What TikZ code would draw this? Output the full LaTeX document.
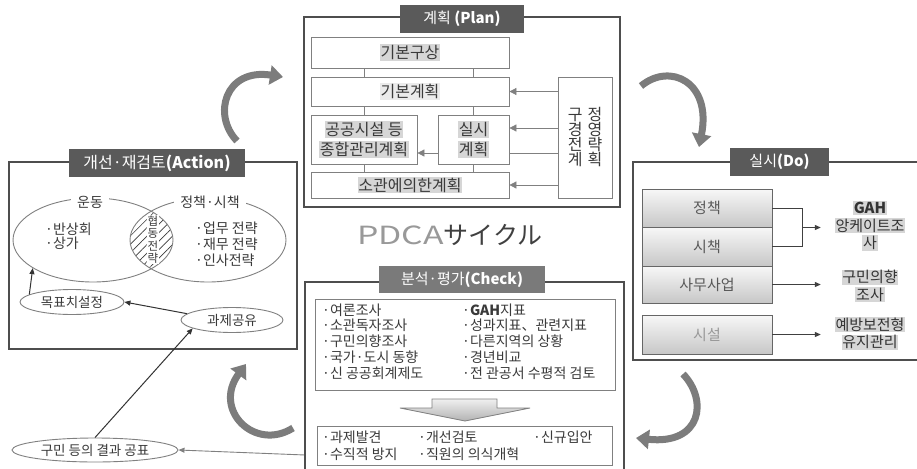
\documentclass[tikz,border=0pt]{standalone}
\usepackage{fontspec}
\setmainfont{Noto Sans CJK KR}
\newfontfamily\jpfont{Noto Sans CJK JP}
\usetikzlibrary{arrows.meta,shapes.geometric,patterns.meta,calc}
\definecolor{boxline}{HTML}{4E4E4E}
\definecolor{inline}{HTML}{808080}
\definecolor{tabA}{HTML}{5A5A5A}
\definecolor{tabC}{HTML}{7A7A7A}
\definecolor{txt}{HTML}{3A3A3A}
\definecolor{hlgray}{HTML}{D6D6D6}
\definecolor{bigarrow}{HTML}{7C7C7C}
\newcommand\hlt[1]{{\setlength{\fboxsep}{0.8pt}\colorbox{hlgray}{#1}}}
\newcommand\fs[2]{\fontsize{#1}{#2}\selectfont}
\begin{document}
\begin{tikzpicture}[x=1pt,y=-1pt,
  outer/.style={draw=boxline,line width=1.5pt},
  tab/.style={fill=tabA,text=white,minimum height=28pt,inner sep=0pt,font=\fs{15}{18}},
  pbox/.style={draw=inline,line width=0.8pt,fill=white,inner sep=0pt,text=txt,font=\fs{16}{20},align=center},
  plink/.style={draw=inline,line width=0.8pt},
  parr/.style={draw=inline,line width=0.8pt,-{Triangle[length=7pt,width=7pt]}},
  oval/.style={ellipse,draw=inline,line width=0.9pt,fill=white,inner sep=0pt,font=\fs{13.5}{15},text=txt},
  darr/.style={draw=black!80,line width=1pt,-{Triangle[length=6pt,width=5pt]}},
  garr/.style={draw=inline,line width=0.9pt,-{Triangle[length=6pt,width=5pt]}},
  dbox/.style={draw=black!60,line width=0.8pt,top color=black!3,bottom color=black!22,minimum width=130pt,inner sep=0pt,font=\fs{15}{16},text=black!65},
  rtxt/.style={font=\fs{15}{17.5},align=center,text width=80pt,inner sep=0pt,text=black!80},
  dlink/.style={draw=black!75,line width=1pt},
  dkarr/.style={draw=black!75,line width=1pt,-{Triangle[length=6pt,width=5pt]},shorten >=9pt},
  ltxt/.style={anchor=west,align=left,inner sep=0pt,font=\fs{14}{15.8},text=txt},
  bigarr/.style={draw=bigarrow,line width=7pt,-{Triangle[length=13pt,width=19pt]}}
]
\useasboundingbox (0,0) rectangle (917,468);
\fill[white] (0,0) rectangle (917,468);

% ---------- Plan ----------
\draw[outer] (304,17) rectangle (620,207);
\node[tab,minimum width=124pt] (plantab) at (462,19) {계획 \textbf{(Plan)}};
\node[pbox,minimum width=198pt,minimum height=31pt] (kb) at (410,52.5) {\hlt{기본구상}};
\node[pbox,minimum width=198pt,minimum height=29pt] (kp) at (410,91.5) {{\setlength{\fboxsep}{0.8pt}\colorbox{black!8}{기본계획}}};
\node[pbox,minimum width=106pt,minimum height=49pt] (gg) at (364,139.5) {\hlt{공공시설 등}\\\hlt{종합관리계획}};
\node[pbox,minimum width=71pt,minimum height=49pt] (ss) at (473.5,139.5) {\hlt{실시}\\\hlt{계획}};
\node[pbox,minimum width=198pt,minimum height=26pt] (sg) at (410,185) {\hlt{소관에의한계획}};
\node[pbox,minimum width=54pt,minimum height=121pt,font=\fs{16}{15}] (ky) at (585,137.5) {구\hspace{5pt}정\\경\hspace{5pt}영\\전\hspace{5pt}략\\계\hspace{5pt}획};
\draw[plink] (kb.south -| gg) -- (kp.north -| gg);
\draw[plink] (kb.south -| ss) -- (kp.north -| ss);
\draw[plink] (kp.south -| gg) -- (gg.north);
\draw[plink] (kp.south -| ss) -- (ss.north);
\draw[plink] (gg.south) -- (sg.north -| gg);
\draw[plink] (ss.south) -- (sg.north -| ss);
\draw[parr] (ky.west |- kp.east) -- (kp.east);
\draw[parr] (ky.west |- 0,128) -- (ss.east |- 0,128);
\draw[plink] (ky.west |- 0,153) -- (ss.east |- 0,153);
\draw[parr] (ss.west |- 0,153) -- (gg.east |- 0,153);
\draw[parr] (ky.west |- sg.east) -- (sg.east);

% ---------- Action ----------
\draw[outer] (9,162) rectangle (297,349);
\node[tab,minimum width=176pt,font=\fs{16}{18}] (acttab) at (157,163) {개선·재검토\textbf{(Action)}};
\begin{scope}
  \clip (93,240) ellipse [x radius=80,y radius=42];
  \fill[pattern={Lines[angle=45,distance=6pt,line width=0.6pt]},pattern color=txt] (208,240) ellipse [x radius=78,y radius=42];
\end{scope}
\node[ellipse,draw=inline,line width=0.9pt,minimum width=160pt,minimum height=84pt,inner sep=0pt] (undong) at (93,240) {};
\node[ellipse,draw=inline,line width=0.9pt,minimum width=156pt,minimum height=84pt,inner sep=0pt] (policy) at (208,240) {};
\node[fill=white,inner ysep=1.5pt,inner xsep=6pt,font=\fs{14}{15},text=txt] (undonglbl) at (90,202) {운동};
\node[fill=white,inner ysep=1.5pt,inner xsep=6pt,font=\fs{14}{15},text=txt] (policylbl) at (210,202) {정책·시책};
\node[anchor=west,align=left,inner sep=0pt,font=\fs{14}{14},text=txt] (undongtxt) at (45,236.5) {·반상회\\·상가};
\node[anchor=west,align=left,inner sep=0pt,font=\fs{14}{16},text=txt] (policytxt) at (195,244) {·업무 전략\\·재무 전략\\·인사전략};
\node[fill=white,inner sep=0.5pt,font=\fs{11.5}{12.5},align=center,text=txt] (hd) at (153,239.5) {협\\동\\전\\략};
\node[oval,minimum width=104pt,minimum height=25pt] (mok) at (72,302) {목표치설정};
\node[oval,minimum width=102pt,minimum height=25pt] (gwaje) at (232,320) {과제공유};
\node[oval,minimum width=166pt,minimum height=24pt] (gumin) at (95,450) {구민 등의 결과 공표};
\draw[darr] (gwaje.172) -- (mok.east);
\draw[darr] (mok.170) -- (undong.205);
\draw[darr] (gumin.north) -- (gwaje.192);
\coordinate (ckl) at (305,455);
\draw[garr] (ckl) -- (gumin.east);

% ---------- Do ----------
\draw[outer] (633,162) rectangle (921,360);
\node[tab,minimum width=99pt] (dotab) at (779.5,162) {실시\textbf{(Do)}};
\node[dbox,minimum height=38pt] (jc) at (707,208) {정책};
\node[dbox,minimum height=39pt] (sc) at (707,246.5) {시책};
\node[dbox,minimum height=37pt] (sa) at (707,284.5) {사무사업};
\node[dbox,minimum height=39pt,text=black!40] (sf) at (707,334.5) {시설};
\node[rtxt] (gah) at (870,226) {\hlt{\textbf{GAH}}\\\hlt{앙케이트조}\\\hlt{사}};
\node[rtxt] (gmh) at (870,286) {\hlt{구민의향}\\\hlt{조사}};
\node[rtxt] (ybh) at (870,333.5) {\hlt{예방보전형}\\\hlt{유지관리}};
\coordinate (jm) at (802,227.5);
\draw[dlink] (jc.east) -| (jm) |- (sc.east);
\draw[dkarr] (jm) -- (gah.west |- jm);
\draw[dkarr] (sa.east) -- (gmh.west |- sa.east);
\draw[dkarr] (sf.east) -- (ybh.west |- sf.east);

% ---------- title ----------
\node[font=\fs{25}{28},inner sep=0pt] (pdca) at (450,235) {\textcolor{black!40}{\scalebox{1.35}[1]{PDCA}}\textcolor{black!75}{\jpfont サイクル}};

% ---------- Check ----------
\draw[outer] (305,282) rectangle (624,474);
\node[tab,fill=tabC,minimum width=166pt,minimum height=27pt] (chktab) at (462,279.5) {분석·평가\textbf{(Check)}};
\node[draw=inline,line width=0.8pt,minimum width=300pt,minimum height=91pt,inner sep=0pt] (cb1) at (465,344.5) {};
\node[ltxt] (cl) at (322,341.5) {·여론조사\\·소관독자조사\\·구민의향조사\\·국가·도시 동향\\·신 공공회계제도};
\node[ltxt] (cr) at (462,341.5) {·\textbf{GAH}지표\\·성과지표、관련지표\\·다른지역의 상황\\·경년비교\\·전 관공서 수평적 검토};
\path[draw=inline,line width=0.8pt,top color=black!6,bottom color=black!30] (432,399) -- (497,399) -- (497,408) -- (530,408) -- (465,421) -- (400,408) -- (432,408) -- cycle;
\node[draw=inline,line width=0.8pt,minimum width=295pt,minimum height=39pt,inner sep=0pt] (cb2) at (464.5,445.5) {};
\node[ltxt] (c21) at (322,437.5) {·과제발견};
\node[ltxt] (c22) at (418,437.5) {·개선검토};
\node[ltxt] (c23) at (533,437.5) {·신규입안};
\node[ltxt] (c24) at (322,454) {·수직적 방지};
\node[ltxt] (c25) at (418,454) {·직원의 의식개혁};

% ---------- cycle arrows ----------
\draw[bigarr] (237,141) .. controls (212,115) and (225,68) .. (283,77);
\draw[bigarr] (641,86) .. controls (670,62) and (712,82) .. (699,147);
\draw[bigarr] (683,374) .. controls (708,400) and (702,445) .. (636,438);
\draw[bigarr] (293,428) .. controls (255,452) and (212,410) .. (246,364);
\end{tikzpicture}
\end{document}
